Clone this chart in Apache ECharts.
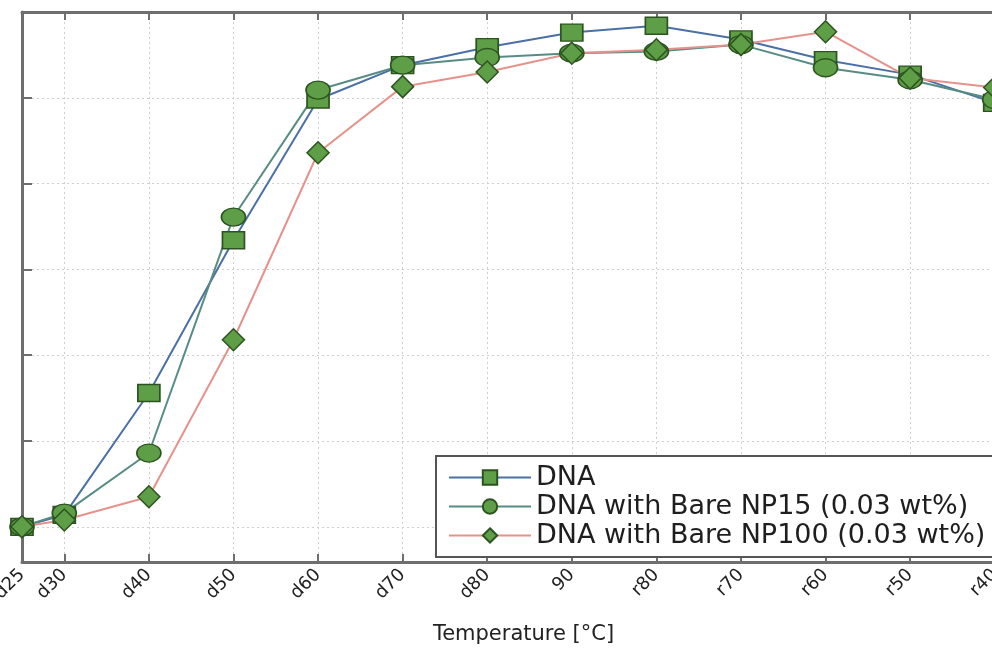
<!DOCTYPE html>
<html><head><meta charset="utf-8">
<script src="https://cdn.jsdelivr.net/npm/echarts@6/dist/echarts.min.js"></script>
<style>html,body{margin:0;padding:0;background:#fff}#c{width:992px;height:649px}</style>
</head><body><div id="c"></div>
<script>
// x positions (temperature step index mapped to numeric position) and their tick labels
const temps = [25, 30, 40, 50, 60, 70, 80, 90, 100, 110, 120, 130, 140];
const tickLabels = ['d25', 'd30', 'd40', 'd50', 'd60', 'd70', 'd80', '90', 'r80', 'r70', 'r60', 'r50', 'r40'];
const seriesNames = ['DNA', 'DNA with Bare NP15 (0.03 wt%)', 'DNA with Bare NP100 (0.03 wt%)'];
const dna   = [0, 0.14, 1.56, 3.34, 4.98, 5.38, 5.59, 5.76, 5.84, 5.68, 5.44, 5.27, 4.94];
const np15  = [0, 0.16, 0.86, 3.61, 5.09, 5.38, 5.47, 5.52, 5.54, 5.62, 5.35, 5.21, 4.98];
const np100 = [0, 0.08, 0.35, 2.18, 4.36, 5.13, 5.30, 5.52, 5.56, 5.62, 5.77, 5.23, 5.12];
const yTicks = [0, 1, 2, 3, 4, 5, 6];

const pair = arr => temps.map((t, i) => [t, arr[i]]);
const font = 'DejaVu Sans';
const frame = '#6e6e6e';

const chart = echarts.init(document.getElementById('c'), null, {renderer: 'canvas'});
const markerStyle = {color: '#5d9e46', borderColor: '#2c5320', borderWidth: 1.5};

function mk(name, data, symbol, size, lineColor) {
  return {
    name, type: 'line', data: pair(data), symbol, symbolSize: size,
    showAllSymbol: true,
    lineStyle: {color: lineColor, width: 2},
    itemStyle: markerStyle,
    emphasis: {disabled: true},
    z: 3
  };
}

chart.setOption({
  animation: false,
  backgroundColor: '#fff',
  grid: {left: 22, top: 12, height: 550, width: 1015, containLabel: false, outerBoundsMode: 'none'},
  legend: {
    orient: 'vertical', left: 436, top: 456,
    itemWidth: 82, itemHeight: 18, itemGap: 2,
    padding: [8, 420, 8, 12],
    backgroundColor: '#fff', borderColor: '#555', borderWidth: 2,
    textStyle: {fontFamily: font, fontSize: 27, lineHeight: 27, color: '#1e1e1e'},
    data: seriesNames
  },
  xAxis: [{
    type: 'value', min: 25, max: 145, position: 'bottom',
    name: 'Temperature [°C]', nameLocation: 'middle', nameGap: 62,
    nameTextStyle: {fontFamily: font, fontSize: 21, color: '#222', padding: [0, 12, 0, 0]},
    axisLine: {show: true, onZero: false, lineStyle: {color: frame, width: 3}},
    axisTick: {show: true, inside: true, length: 8, customValues: temps.slice(1), lineStyle: {color: frame, width: 2}},
    axisLabel: {
      customValues: temps, rotate: 45, margin: 10,
      fontFamily: font, fontSize: 18, color: '#222',
      formatter: v => tickLabels[temps.indexOf(v)] || ''
    },
    splitLine: {show: true, lineStyle: {color: '#cfcfcf', type: [2, 3], width: 1}}
  }, {
    type: 'value', min: 25, max: 145, position: 'top',
    axisLine: {show: true, onZero: false, lineStyle: {color: frame, width: 3}},
    axisTick: {show: true, inside: true, length: 8, customValues: temps.slice(1), lineStyle: {color: frame, width: 2}},
    axisLabel: {show: false},
    splitLine: {show: false}
  }],
  yAxis: {
    type: 'value', min: -0.41, max: 6,
    axisLine: {show: true, onZero: false, lineStyle: {color: frame, width: 3}},
    axisTick: {show: true, inside: true, length: 10, customValues: yTicks, lineStyle: {color: frame, width: 2}},
    axisLabel: {show: false, customValues: yTicks},
    splitLine: {show: true, lineStyle: {color: '#cfcfcf', type: [2, 3], width: 1}}
  },
  series: [
    mk(seriesNames[0], dna, 'rect', [22, 17], '#4a70a6'),
    mk(seriesNames[1], np15, 'circle', [24, 18], '#578c84'),
    mk(seriesNames[2], np100, 'diamond', [22, 22], '#e6928c')
  ]
});
</script></body></html>
